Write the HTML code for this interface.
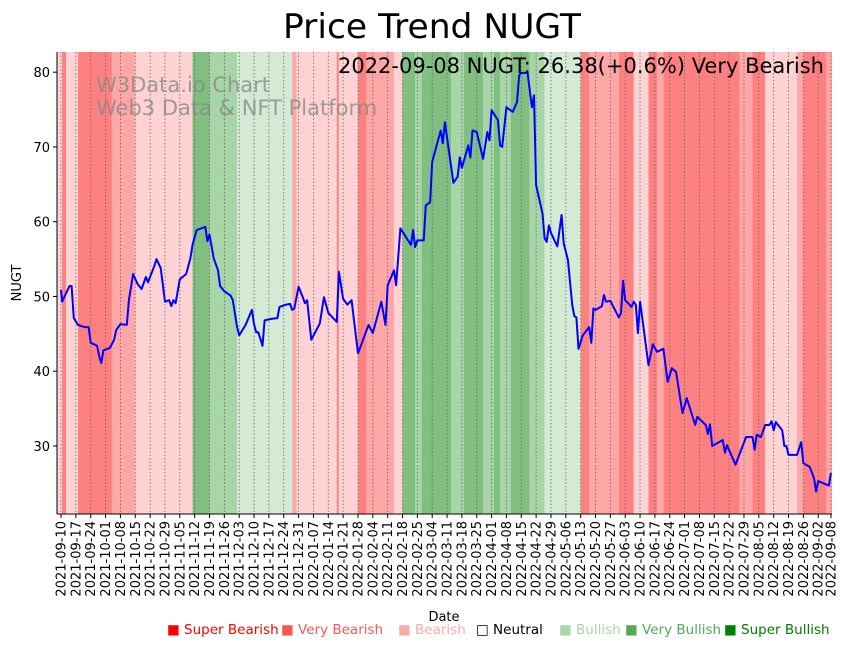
<!DOCTYPE html>
<html><head><meta charset="utf-8"><style>
body{margin:0;background:#fff;width:851px;height:646px;overflow:hidden;font-family:"Liberation Sans","DejaVu Sans",sans-serif}
svg text{font-family:"DejaVu Sans","Liberation Sans",sans-serif}
</style></head><body>
<svg id="chart" width="851" height="646" xmlns="http://www.w3.org/2000/svg">
<g id="bands"></g>
<g id="grid"></g>
<g id="wm">
<text x="96" y="92" font-size="21" fill="#888" fill-opacity="0.8">W3Data.io Chart</text>
<text x="96" y="115" font-size="21" fill="#888" fill-opacity="0.8">Web3 Data &amp; NFT Platform</text>
</g>
<path id="line" fill="none" stroke="#0000ff" stroke-width="2" stroke-linejoin="round"/>
<g id="axes"></g>
<text x="432" y="38" font-size="34" text-anchor="middle" textLength="298" lengthAdjust="spacingAndGlyphs">Price Trend NUGT</text>
<text x="824" y="73" font-size="21" text-anchor="end">2022-09-08 NUGT: 26.38(+0.6%) Very Bearish</text>
<text transform="translate(21,283) rotate(-90)" font-size="13" text-anchor="middle">NUGT</text>
<text x="444" y="621" font-size="13" text-anchor="middle">Date</text>
<g id="legend" font-size="13.5"></g>
</svg>
<script>
const days=[0,0.5,4,5,6,8,11,13,14,17,18,19,20,23,25,26,28,31,32,34,36,38,40,41,44,45,47,49,51,52,53,54,56,59,61,62,64,68,69,70,72,74,75,77,80,81,83,84,87,90,91,92,93,95,96,99,102,103,106,108,109,110,112,114,115,116,118,122,124,126,130,131,133,135,137,139,140,145,147,151,153,154,157,158,160,165,166,167,168,171,172,174,175,179,180,181,185,187,188,189,192,193,194,196,199,201,202,203,206,207,208,210,213,215,216,217,220,222,223,224,227,228,229,230,231,234,236,237,239,241,242,243,244,246,249,250,251,252,255,256,257,259,263,264,265,266,269,270,271,272,273,277,279,281,284,286,288,290,293,295,299,300,304,305,306,307,312,313,314,318,323,326,327,328,330,332,334,335,336,337,340,341,342,343,347,349,350,353,355,356,357,362,363];
const prices=[50.9,49.3,51.4,51.4,47.1,46.2,45.9,45.9,43.8,43.4,42.0,41.1,42.8,43.1,44.2,45.5,46.3,46.2,49.5,53.0,51.7,51.0,52.6,51.9,54.1,55.0,53.8,49.3,49.5,48.7,49.5,49.1,52.3,53.0,55.1,56.9,58.9,59.3,57.4,58.3,55.1,53.5,51.4,50.7,50.1,49.5,45.9,44.8,46.2,48.2,46.3,45.2,45.2,43.4,46.8,47.0,47.1,48.6,48.9,49.0,48.2,48.4,51.3,49.9,49.1,49.5,44.2,46.4,49.9,47.8,46.6,53.3,49.7,48.9,49.5,44.8,42.4,46.2,45.1,49.3,46.2,51.5,53.5,51.5,59.1,56.9,58.9,56.6,57.5,57.5,62.2,62.6,68.0,72.2,70.5,73.3,65.2,66.0,68.6,67.2,70.2,68.6,72.2,72.0,68.4,72.0,70.9,74.9,73.6,70.2,70.0,75.3,74.7,76.0,79.6,79.9,79.9,75.3,76.9,64.9,61.1,57.8,57.3,59.5,58.5,56.7,60.9,57.1,54.9,48.9,47.4,47.2,43.0,44.8,45.9,43.8,48.4,48.2,48.7,50.2,49.3,49.4,47.2,47.8,52.1,49.5,48.6,49.3,48.9,45.1,49.3,40.8,43.6,42.6,43.0,38.6,40.4,39.9,34.4,36.4,32.8,33.9,32.8,31.6,32.9,30.0,30.8,29.1,30.1,27.5,31.2,31.2,29.5,31.5,31.2,32.8,32.8,33.3,32.1,33.2,32.1,30.0,30.0,28.8,28.8,30.5,27.7,27.2,25.7,23.9,25.3,24.7,26.38];
const bandStart=[-2,0.5,2.4,8,24,35,62,70,83,109,111,130,131,140,144,157,161,167,170,184,190,199,204,207,212,221,228,245,249,263,270,277,281,284,320,326,332,347,350,361];
const bandEnd=[0.5,2.4,8,24,35,62,70,83,109,111,130,131,140,144,157,161,167,170,184,190,199,204,207,212,221,228,245,249,263,270,277,281,284,320,326,332,347,350,361,364];
const bandLevel=[-1,-3,-1,-3,-2,-1,3,2,1,-2,-1,-3,-1,-3,-2,-1,3,2,3,2,3,2,3,2,3,2,1,-3,-2,-3,-1,-3,-2,-3,-2,-3,-1,-2,-3,-2];
const yTicks=[30,40,50,60,70,80];
const startDate=new Date(Date.UTC(2021,8,10));
const legendLabels=["Super Bearish","Very Bearish","Bearish","Neutral","Bullish","Very Bullish","Super Bullish"];

const L=57,R=832,T=52,B=514,D0=-1.9,D1=363.5,V0=20.9,V1=82.7;
const X=d=>L+(d-D0)/(D1-D0)*(R-L);
const Y=v=>B-(v-V0)/(V1-V0)*(B-T);
const NS="http://www.w3.org/2000/svg";
function mk(tag,attrs,parent){const e=document.createElementNS(NS,tag);for(const k in attrs)e.setAttribute(k,attrs[k]);parent.appendChild(e);return e;}
const col={"-3":"#ff8080","-2":"#ffa6a6","-1":"#ffd3d3","1":"#d4ead4","2":"#a8d5a8","3":"#80bf80"};
const bandsG=document.getElementById('bands');
bandStart.forEach((s,i)=>{
 const x0=Math.max(L,X(s)),x1=Math.min(R,X(bandEnd[i]));
 const r=mk('rect',{x:x0,y:T,width:x1-x0,height:B-T,fill:col[bandLevel[i]]},bandsG);
 
 
});
const gridG=document.getElementById('grid'),axG=document.getElementById('axes');
const tickDays=[];for(let d=0;d<=357;d+=7)tickDays.push(d);tickDays.push(363);
tickDays.forEach(d=>{
 const x=X(d);
 const g=mk('line',{x1:x,x2:x,y1:T,y2:B,stroke:'#666','stroke-width':0.8,'stroke-dasharray':'1.5,2'},gridG);
 
 
 mk('line',{x1:x,x2:x,y1:B,y2:B+4,stroke:'#000','stroke-width':1},axG);
 const dt=new Date(startDate.getTime()+d*86400000);
 const lab=dt.toISOString().slice(0,10);
 const t=mk('text',{transform:`translate(${x+4.5},${B+7}) rotate(-90)`,'font-size':13,'text-anchor':'end'},axG);
 t.textContent=lab;
 
 
});
yTicks.forEach(v=>{
 const y=Y(v);
 mk('line',{x1:L-4,x2:L,y1:y,y2:y,stroke:'#000','stroke-width':1},axG);
 const t=mk('text',{x:L-7,y:y+5,'font-size':13,'text-anchor':'end'},axG);
 t.textContent=v;
 
 
});
mk('line',{x1:L,x2:L,y1:T,y2:B,stroke:'#000','stroke-width':1},axG);
mk('line',{x1:L,x2:R,y1:B,y2:B,stroke:'#000','stroke-width':1},axG);
document.getElementById('line').setAttribute('d',days.map((d,i)=>(i?'L':'M')+X(d).toFixed(1)+','+Y(prices[i]).toFixed(1)).join(''));
const legCol=["#ff0000","#ff5555","#ffaaaa","#000","#aad4aa","#55aa55","#008000"];
const legX=[167,281,398,476,559,625,724];
const legG=document.getElementById('legend');
legendLabels.forEach((s,i)=>{
 const t=mk('text',{x:legX[i],y:634,fill:legCol[i]},legG);
 t.textContent=(i==3?'□ ':'■ ')+s;
 
 
});
</script>
</body></html>
